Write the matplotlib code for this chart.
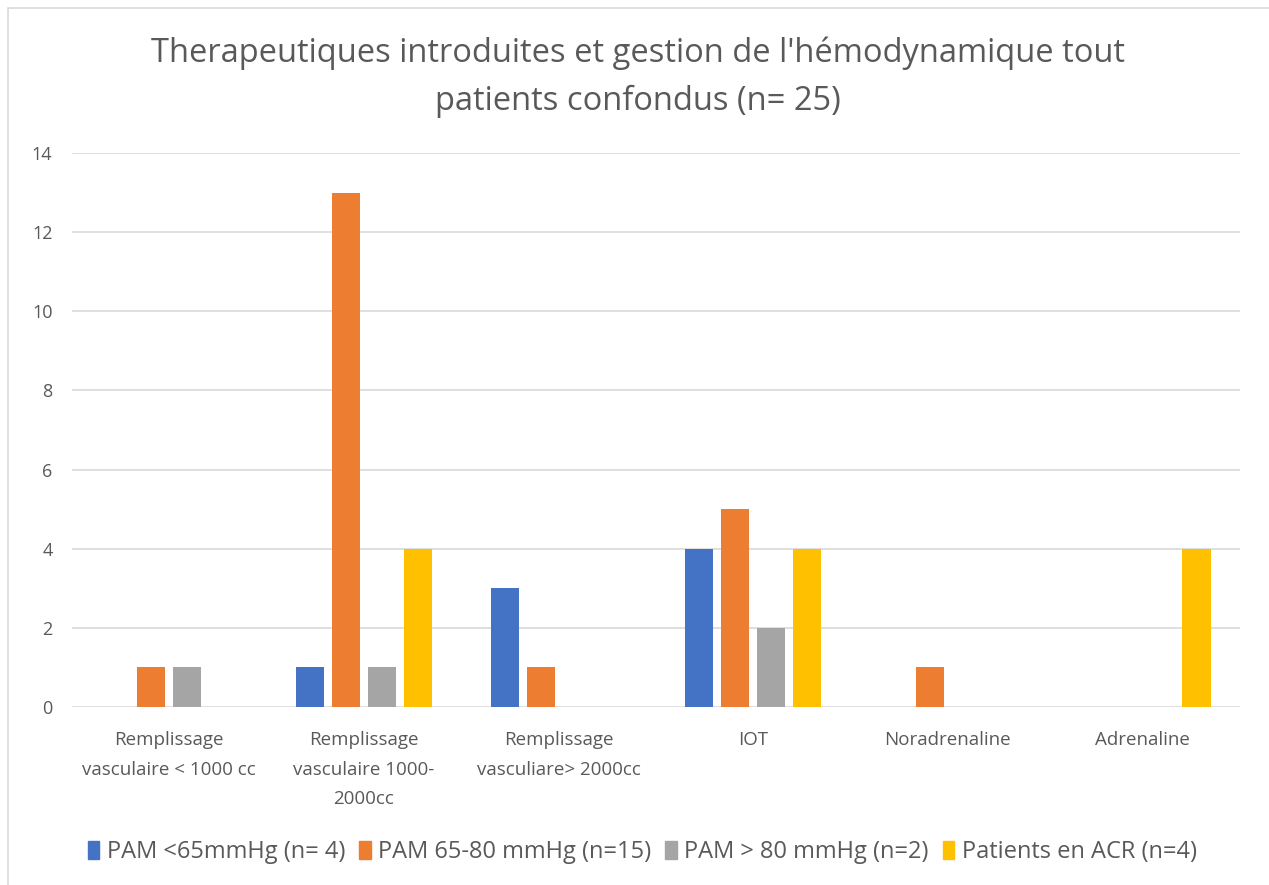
import matplotlib
matplotlib.use("Agg")
import matplotlib.pyplot as plt
import matplotlib.patches as mpatches
import numpy as np

categories = [
    "Remplissage\nvasculaire < 1000 cc",
    "Remplissage\nvasculaire 1000-\n2000cc",
    "Remplissage\nvasculiare> 2000cc",
    "IOT",
    "Noradrenaline",
    "Adrenaline",
]
series_names = [
    "PAM <65mmHg (n= 4)",
    "PAM 65-80 mmHg (n=15)",
    "PAM > 80 mmHg (n=2)",
    "Patients en ACR (n=4)",
]
pam_lt65 = [0, 1, 3, 4, 0, 0]
pam_65_80 = [1, 13, 1, 5, 1, 0]
pam_gt80 = [1, 1, 0, 2, 0, 0]
acr = [0, 4, 0, 4, 0, 4]

colors = ["#4472C4", "#ED7D31", "#A5A5A5", "#FFC000"]
text_color = "#595959"
plt.rcParams['font.family'] = ['Open Sans', 'DejaVu Sans']

fig = plt.figure(figsize=(12.69, 8.85), dpi=100)
ax = fig.add_axes([0.0567, 0.2011, 0.9203, 0.626])

x = np.arange(len(categories))
step = 0.185
width = 0.144
for i, vals in enumerate([pam_lt65, pam_65_80, pam_gt80, acr]):
    ax.bar(x + (i - 1.5) * step, vals, width=width, color=colors[i],
           label=series_names[i], zorder=3)

ax.set_xlim(-0.5, len(categories) - 0.5)
ax.set_ylim(0, 14)
ax.set_yticks(range(0, 15, 2))
ax.yaxis.grid(True, color="#D9D9D9", linewidth=1.2, zorder=0)
for s in ax.spines.values():
    s.set_visible(False)
ax.tick_params(axis='both', length=0, labelsize=13, colors=text_color)
ax.tick_params(axis='y', pad=14)
ax.set_xticks(x)
ax.set_xticklabels(categories, linespacing=1.85, fontsize=13.5)
ax.tick_params(axis='x', pad=17)

fig.text(0.503, 0.913, "Therapeutiques introduites et gestion de l'hémodynamique tout\npatients confondus (n= 25)",
         ha='center', va='center', fontsize=23.5, color=text_color, linespacing=1.6)

handles = [mpatches.Rectangle((0, 0), 1, 1, color=c) for c in colors]
fig.legend(handles, series_names, loc='center', bbox_to_anchor=(0.506, 0.037), ncol=4,
           frameon=False, fontsize=17, handlelength=0.5, handleheight=0.8,
           handletextpad=0.3, columnspacing=0.6, labelcolor=text_color)

border = mpatches.Rectangle((8 / 1269, -0.01), 1.0, 1 - 8 / 885 + 0.01, transform=fig.transFigure,
                            fill=False, edgecolor="#D9D9D9", linewidth=1.2)
fig.patches.append(border)

fig.savefig("out.png", dpi=100)
